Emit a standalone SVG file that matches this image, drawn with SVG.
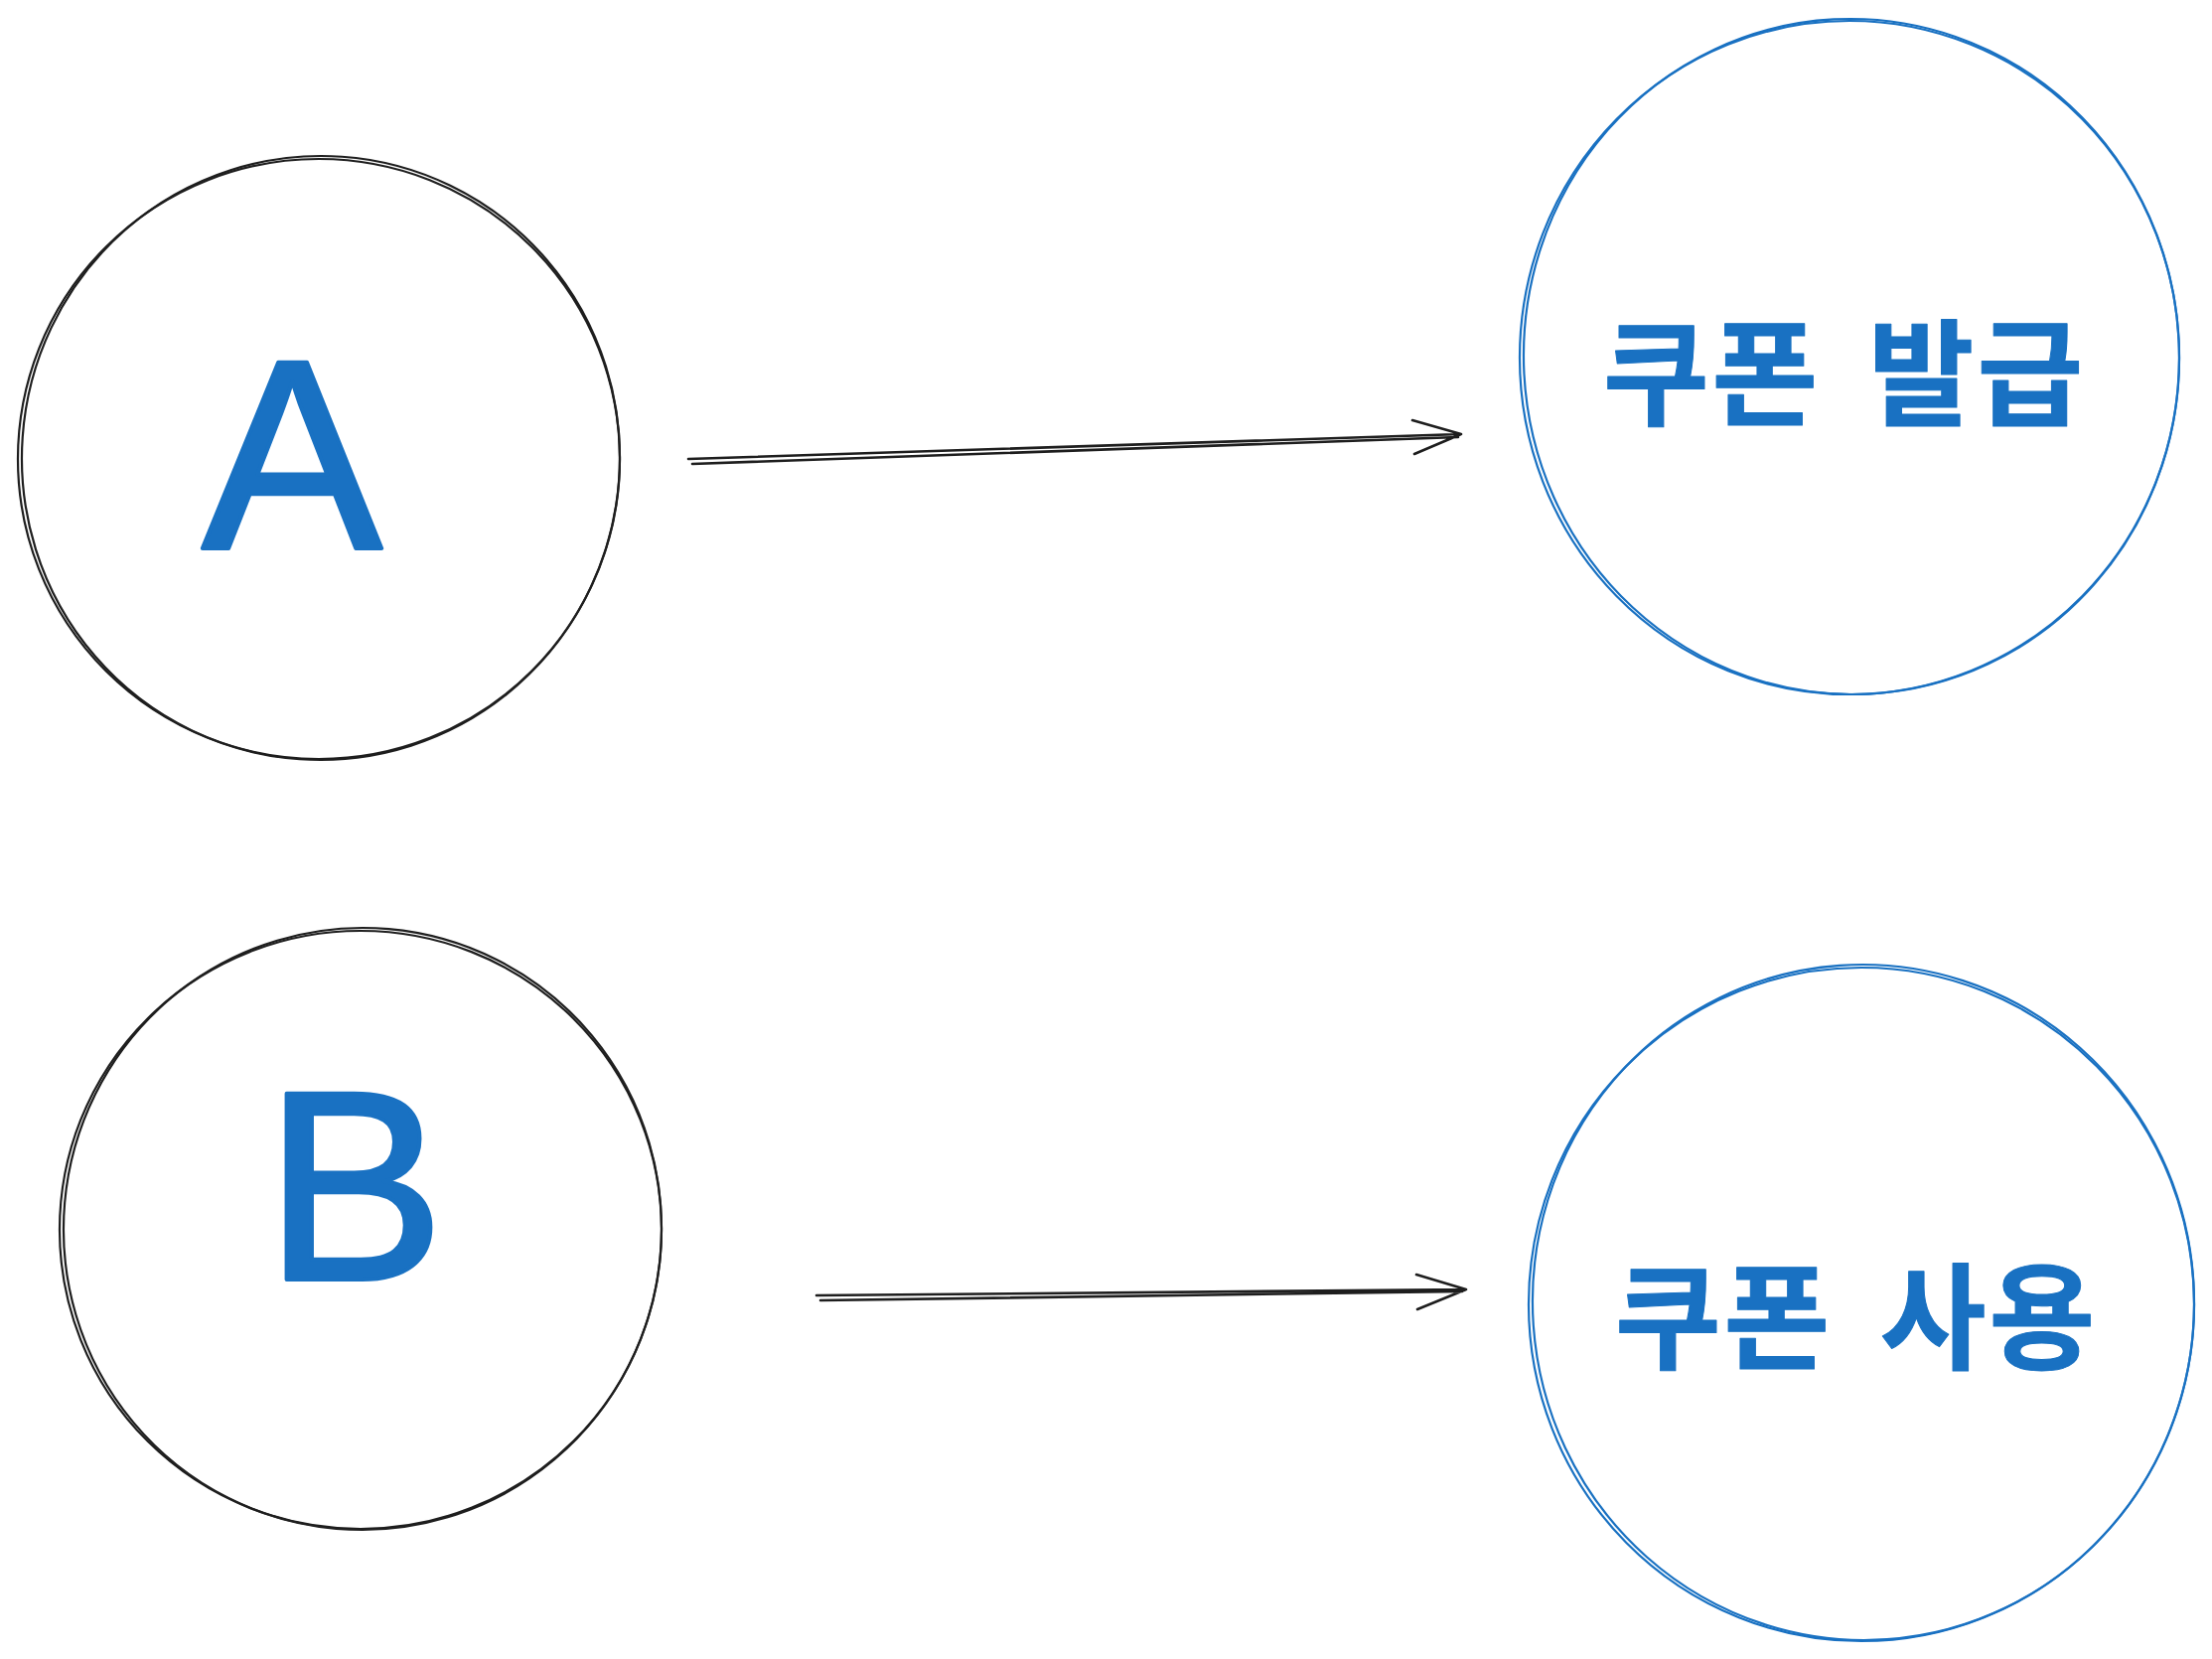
<svg xmlns="http://www.w3.org/2000/svg" width="2227" height="1670" viewBox="0 0 2227 1670">
<style>
.blk{fill:none;stroke:#1e1e1e;stroke-width:2.2;stroke-linecap:round;stroke-linejoin:round}
.blu{fill:none;stroke:#1971c2;stroke-width:2.2;stroke-linecap:round;stroke-linejoin:round}
.arr{fill:none;stroke:#1e1e1e;stroke-width:2.6;stroke-linecap:round;stroke-linejoin:round}
.lat{font-family:"Liberation Sans",Arial,sans-serif;font-size:272px;fill:#1971c2;stroke:#1971c2;stroke-width:4;stroke-linejoin:round;text-anchor:middle}
.kor{font-family:"Noto Sans CJK KR","Noto Sans",sans-serif;font-weight:700;font-size:116px;fill:#1971c2;stroke:#1971c2;stroke-width:1;stroke-linejoin:round;text-anchor:middle;letter-spacing:3px;word-spacing:18px}
</style>
<rect width="2227" height="1670" fill="#ffffff"/>
<g id="node-a">
<ellipse class="blk" cx="321" cy="462" rx="303" ry="302"/>
<ellipse class="blk" cx="323" cy="461" rx="301" ry="304" transform="rotate(4 323 461)"/>
<text class="lat" x="294" y="552">A</text>
</g>
<g id="node-issue">
<ellipse class="blu" cx="1862" cy="360" rx="332" ry="339"/>
<ellipse class="blu" cx="1864" cy="359" rx="330" ry="340" transform="rotate(-3 1864 359)"/>
<text class="kor" x="1857" y="419">쿠폰 발급</text>
</g>
<g id="node-b">
<ellipse class="blk" cx="363" cy="1238" rx="303" ry="301"/>
<ellipse class="blk" cx="365" cy="1237" rx="301" ry="303" transform="rotate(5 365 1237)"/>
<text class="lat" x="357" y="1288">B</text>
</g>
<g id="node-use">
<ellipse class="blu" cx="1874" cy="1313" rx="335" ry="339"/>
<ellipse class="blu" cx="1876" cy="1311" rx="333" ry="340" transform="rotate(-4 1876 1311)"/>
<text class="kor" x="1869" y="1369">쿠폰 사용</text>
</g>
<g id="connectors">
<path class="arr" d="M693 462 L1471 437 M697 467 L1468 440 M1422 423 L1471 437 M1424 457 L1471 437"/>
<path class="arr" d="M822 1304 L1476 1298 M826 1309 L1472 1300 M1426 1283 L1476 1298 M1427 1318 L1476 1298"/>
</g>
</svg>
